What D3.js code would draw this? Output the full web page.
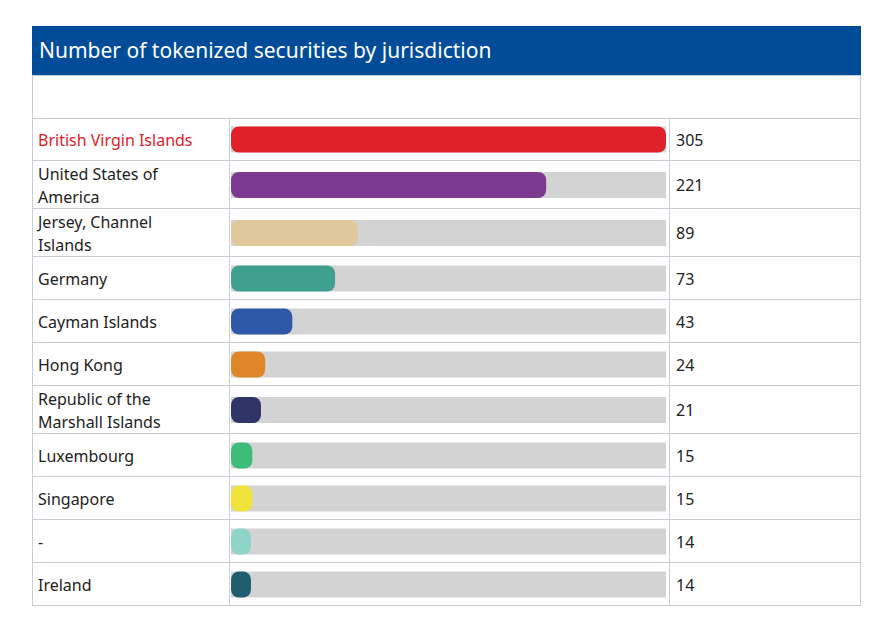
<!DOCTYPE html>
<html><head><meta charset="utf-8">
<script src="https://cdn.jsdelivr.net/npm/d3@7"></script>
<style>body{margin:0;background:#fff}text{font-family:"Noto Sans",sans-serif}</style>
</head><body>
<svg id="chart" width="892" height="632"></svg>
<script>
const categories = ["British Virgin Islands", "United States of America", "Jersey, Channel Islands", "Germany", "Cayman Islands", "Hong Kong", "Republic of the Marshall Islands", "Luxembourg", "Singapore", "-", "Ireland"];
const labelLines = [["British Virgin Islands"], ["United States of", "America"], ["Jersey, Channel", "Islands"], ["Germany"], ["Cayman Islands"], ["Hong Kong"], ["Republic of the", "Marshall Islands"], ["Luxembourg"], ["Singapore"], ["-"], ["Ireland"]];
const values = [305, 221, 89, 73, 43, 24, 21, 15, 15, 14, 14];
const colors = ["#e0202a", "#7b3a8f", "#dfc89c", "#3fa08f", "#2f58a8", "#e0862a", "#2e3466", "#3dbd78", "#f0e43c", "#8ed4c8", "#1e5e70"];

const svg = d3.select("#chart");
const left = 32, right = 861, col1 = 229, col2 = 669;
const grid = "#c9ced6";

// title bar
svg.append("rect").attr("x", left).attr("y", 26).attr("width", right - left).attr("height", 49).attr("fill", "#004c99");
svg.append("text").attr("x", 39).attr("y", 58).attr("fill", "#fff").attr("font-size", 21).text("Number of tokenized securities by jurisdiction");

// row heights: two-line labels get taller rows
const heights = labelLines.map(l => l.length > 1 ? 48 : 43);
const tops = [];
let y = 118;
heights.forEach(h => { tops.push(y); y += h; });
const bottom = y;

svg.append("rect").attr("x", left + 0.5).attr("y", 75.5).attr("width", right - left - 1).attr("height", bottom - 76)
  .attr("fill", "none").attr("stroke", grid);
svg.append("line").attr("x1", left).attr("x2", right).attr("y1", 118.5).attr("y2", 118.5).attr("stroke", grid);

const x = d3.scaleLinear().domain([0, d3.max(values)]).range([0, 435]);
const barX = 231, barH = 26;

const rows = svg.selectAll("g.row").data(categories).enter().append("g").attr("class", "row")
  .attr("transform", (d, i) => `translate(0,${tops[i]})`);

rows.append("line").attr("x1", left).attr("x2", right)
  .attr("y1", (d, i) => heights[i] - 0.5).attr("y2", (d, i) => heights[i] - 0.5).attr("stroke", grid);
rows.append("line").attr("x1", col1 + 0.5).attr("x2", col1 + 0.5).attr("y1", 0).attr("y2", (d, i) => heights[i]).attr("stroke", grid);
rows.append("line").attr("x1", col2 + 0.5).attr("x2", col2 + 0.5).attr("y1", 0).attr("y2", (d, i) => heights[i]).attr("stroke", grid);

rows.append("rect").attr("x", barX).attr("y", (d, i) => heights[i] / 2 - barH / 2)
  .attr("width", x(d3.max(values))).attr("height", barH).attr("fill", "#d3d3d3");
rows.append("rect").attr("x", barX).attr("y", (d, i) => heights[i] / 2 - barH / 2)
  .attr("width", (d, i) => Math.max(12, x(values[i]))).attr("height", barH)
  .attr("rx", 8).attr("fill", (d, i) => colors[i]);

rows.append("text").attr("x", 38).attr("font-size", 16)
  .attr("fill", (d, i) => i === 0 ? "#e0202a" : "#222")
  .each(function (d, i) {
    const t = d3.select(this), ls = labelLines[i];
    const y0 = heights[i] / 2 + 6 - (ls.length - 1) * 11.5;
    ls.forEach((s, k) => t.append("tspan").attr("x", 38).attr("y", y0 + k * 23).text(s));
  });

rows.append("text").attr("x", 676).attr("y", (d, i) => heights[i] / 2 + 6)
  .attr("font-size", 16).attr("fill", "#222").text((d, i) => values[i]);
</script>
</body></html>
